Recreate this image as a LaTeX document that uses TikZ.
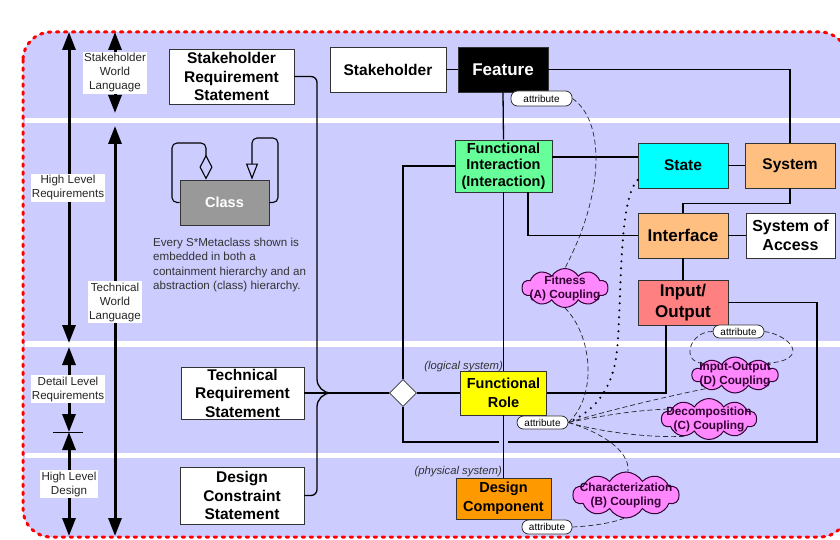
\documentclass[tikz,border=0pt]{standalone}
\usepackage{fontspec}
\setmainfont{Liberation Sans}
\usetikzlibrary{arrows.meta,shapes.geometric,shapes.symbols,shapes.misc}
\definecolor{bgc}{HTML}{CCCCFF}
\definecolor{boxline}{HTML}{333333}
\definecolor{capc}{HTML}{333333}
\definecolor{greenc}{HTML}{66FF99}
\definecolor{cyanc}{HTML}{00FFFF}
\definecolor{peachc}{HTML}{FFBF80}
\definecolor{salmonc}{HTML}{FF8080}
\definecolor{yellowc}{HTML}{FFFF00}
\definecolor{orangec}{HTML}{FF9900}
\definecolor{grayc}{HTML}{999999}
\definecolor{cloudc}{HTML}{FF88FF}
\definecolor{cloudl}{HTML}{330033}
\newcommand\myfs[2]{\fontsize{#1}{#2}\selectfont}
\tikzset{
  box/.style={draw=boxline, line width=0.8pt, align=center, inner sep=0pt, font=\bfseries\myfs{15.5}{18.5}},
  lbl/.style={fill=white, align=center, font=\myfs{11.6}{14}, inner sep=1.2pt, text=black!85},
  bigarr/.style={line width=3pt, {Triangle[length=18pt,width=13pt]}-{Triangle[length=18pt,width=13pt]}},
  conn/.style={line width=1.3pt, draw=black},
  dsh/.style={line width=0.7pt, draw=black!85, dash pattern=on 5pt off 3pt},
  dotl/.style={line width=2.3pt, draw=black, dash pattern=on 0pt off 7pt, line cap=round},
  attr/.style={draw=boxline, fill=white, line width=0.8pt, rounded corners=6.5pt, inner sep=0pt, font=\myfs{10}{11}},
  cloudsty/.style={cloud, cloud puffs=10, cloud puff arc=120, cloud ignores aspect, fill=cloudc, draw=cloudl, line width=1pt, inner sep=0pt},
  cloudtxt/.style={align=center, font=\bfseries\myfs{11.8}{14}, text=cloudl, inner sep=0pt},
  ital/.style={font=\itshape\myfs{11.3}{12}, text=capc, inner sep=0pt}
}
\begin{document}
\begin{tikzpicture}[x=1pt,y=-1pt]
\useasboundingbox (0,0) rectangle (840,540);
% background
\path[fill=bgc, rounded corners=28pt] (23,32) rectangle (848,537);
\fill[white] (25,117.7) rectangle (846,122.7);
\fill[white] (25,341.3) rectangle (846,346.7);
\fill[white] (25,453) rectangle (846,458);
\draw[draw=red, line width=3pt, line cap=round, dash pattern=on 2.5pt off 5.5pt, rounded corners=28pt] (23,32) rectangle (848,537);

% left arrows
\draw[bigarr] (69,32) -- (69,343);
\draw[bigarr] (69,347) -- (69,432);
\draw[bigarr] (69,432) -- (69,536);
\draw[line width=0.8pt] (53,432) -- (83,432);
\draw[bigarr] (115,32) -- (115,113);
\draw[bigarr] (115,126) -- (115,536);
\node[lbl] (swl) at (115,73) {Stakeholder\\World\\Language};
\node[lbl] (hlr) at (68,188) {High Level\\Requirements};
\node[lbl] (twl) at (115,302) {Technical\\World\\Language};
\node[lbl] (dlr) at (68,389) {Detail Level\\Requirements};
\node[lbl] (hld) at (69,484) {High Level\\Design};

% main nodes
\node[box, fill=white, minimum width=125pt, minimum height=55pt] (SRS) at (231.5,76.5) {Stakeholder\\Requirement\\Statement};
\node[box, fill=white, minimum width=116pt, minimum height=45pt] (SH) at (388,69.5) {Stakeholder};
\node[box, fill=black, text=white, font=\bfseries\myfs{17}{19}, minimum width=90pt, minimum height=45pt] (FEAT) at (503,69.5) {Feature};
\node[box, fill=greenc, font=\bfseries\myfs{14.5}{16.5}, minimum width=97pt, minimum height=52pt] (FI) at (503.5,166) {Functional\\Interaction\\(Interaction)};
\node[box, fill=cyanc, minimum width=90pt, minimum height=45pt] (ST) at (683,165.5) {State};
\node[box, fill=peachc, minimum width=90pt, minimum height=45pt] (SYS) at (790,165.5) {System};
\node[box, fill=peachc, font=\bfseries\myfs{17}{19}, minimum width=90pt, minimum height=45pt] (IF) at (683,235.5) {Interface};
\node[box, fill=white, font=\bfseries\myfs{16}{19}, minimum width=89pt, minimum height=45pt] (SOA) at (790.5,235.5) {System of\\Access};
\node[box, fill=salmonc, font=\bfseries\myfs{17}{21}, minimum width=90pt, minimum height=45pt] (IO) at (683,302.5) {Input/\\Output};
\node[box, fill=yellowc, font=\bfseries\myfs{14.5}{19}, minimum width=86pt, minimum height=44pt] (FR) at (503.5,393) {Functional\\Role};
\node[box, fill=orangec, font=\bfseries\myfs{14.5}{19}, minimum width=95pt, minimum height=41pt] (DC) at (503.5,498.5) {Design\\Component};
\node[box, fill=white, minimum width=123pt, minimum height=52pt] (TRS) at (242.5,393) {Technical\\Requirement\\Statement};
\node[box, fill=white, minimum width=124pt, minimum height=57pt] (DCS) at (242,495.5) {Design\\Constraint\\Statement};
\node[box, fill=grayc, text=white, font=\bfseries\myfs{14.5}{17}, minimum width=89pt, minimum height=45pt] (CLS) at (224.5,202.5) {Class};
\node[diamond, draw=boxline, fill=white, line width=0.8pt, minimum width=27pt, minimum height=27pt, inner sep=0pt] (dia) at (403,393) {};

% attribute pills
\node[attr, minimum width=61pt, minimum height=15pt] (aF) at (541.5,98.5) {attribute};
\node[attr, minimum width=51pt, minimum height=13pt] (aIO) at (738.5,331.5) {attribute};
\node[attr, minimum width=51pt, minimum height=13pt] (aFR) at (542.5,422.5) {attribute};
\node[attr, minimum width=50pt, minimum height=14pt] (aDC) at (547,527) {attribute};

% clouds
\node[cloudsty, minimum width=86pt, minimum height=39pt] (cA) at (565,288) {};
\node[cloudtxt] (cAt) at (cA) {Fitness\\(A) Coupling};
\node[cloudsty, minimum width=86pt, minimum height=36pt] (cD) at (735,375) {};
\node[cloudtxt] (cDt) at (cD) {Input-Output\\(D) Coupling};
\node[cloudsty, minimum width=95pt, minimum height=41pt] (cC) at (709,419) {};
\node[cloudtxt] (cCt) at (cC) {Decomposition\\(C) Coupling};
\node[cloudsty, minimum width=106pt, minimum height=46pt] (cB) at (626,495) {};
\node[cloudtxt] (cBt) at (cB) {Characterization\\(B) Coupling};

% texts
\node[anchor=north west, align=left, font=\myfs{11.6}{14.3}, text=capc, inner sep=0pt] (cap) at (153,238) {Every S*Metaclass shown is\\embedded in both a\\containment hierarchy and an\\abstraction (class) hierarchy.};
\node[ital, anchor=east] (logi) at (503,366.5) {(logical system)};
\node[ital, anchor=east] (phys) at (502,471.5) {(physical system)};

% class loops
\draw[line width=1.1pt, rounded corners=5pt, -{Diamond[open,length=25pt,width=13pt]}] (CLS.west) -- (172,202.5) -- (172,143) -- (206,143) -- ([xshift=-18.5pt]CLS.north);
\draw[line width=1.1pt, rounded corners=5pt, -{Triangle[open,length=16pt,width=12pt]}] (CLS.east) -- (278,202.5) -- (278,138) -- (252,138) -- ([xshift=27.5pt]CLS.north);

% solid connectors
\draw[conn] (SH.east) -- (FEAT.west);
\draw[conn] (FEAT.east) -| (SYS.north);
\draw[conn] (FEAT.south) -- (FI.north);
\draw[conn] (FI.east |- 0,157) -- (ST.west |- 0,157);
\draw[conn] (ST.east) -- (SYS.west);
\draw[conn] (SYS.south) -- ++(0,15) -| (IF.north);
\draw[conn] ([xshift=24.5pt]FI.south) |- (IF.west);
\draw[conn] (IF.east) -- (SOA.west);
\draw[conn] (IF.south) -- (IO.north);
\draw[conn] (FI.west) -| (dia.north);
\draw[conn] (FI.south) -- (FR.north);
\draw[conn] (dia.east) -- (FR.west);
\draw[conn] (FR.east) -| ([xshift=-17pt]IO.south);
\coordinate (g1) at (508,442);
\coordinate (g2) at (499,442);
\coordinate (c817) at (817,442);
\draw[conn] (IO.east) -| (c817) -- (g1);
\draw[conn] (g2) -| (dia.south);
\draw[conn] (FR.south) -- (DC.north);
\draw[conn] (TRS.east) -- (dia.west);
\draw[conn] (SRS.east) [rounded corners=6pt] -| (317,250) [rounded corners=14pt] -- (317,393) -- (dia.west);
\draw[conn] (DCS.east) [rounded corners=6pt] -| (317,450) [rounded corners=14pt] -- (317,393) -- (dia.west);

% dashed / dotted
\draw[dsh] (aF.east) .. controls (604,120) and (606,190) .. (cA.north);
\draw[dsh] (cA.south) .. controls (592,335) and (598,395) .. (aFR.east);
\draw[dotl] ([yshift=-14.5pt]ST.west) .. controls (618,200) and (622,300) .. (617,350) .. controls (613,392) and (592,412) .. (aFR.east);
\draw[dsh] (aFR.east) .. controls (610,410) and (660,398) .. (cD.205);
\draw[dsh] (aFR.east) .. controls (610,414) and (640,410) .. (cC.165);
\draw[dsh] (aFR.east) .. controls (600,432) and (650,438) .. (cC.215);
\draw[dsh] (aFR.east) .. controls (600,432) and (630,450) .. (cB.85);
\draw[dsh] (aIO.west) .. controls (690,331) and (680,362) .. (cD.160);
\draw[dsh] (aIO.east) .. controls (790,335) and (812,360) .. (cD.20);
\draw[dsh] (aDC.east) .. controls (595,526) and (615,522) .. (cB.265);
\end{tikzpicture}
\end{document}
